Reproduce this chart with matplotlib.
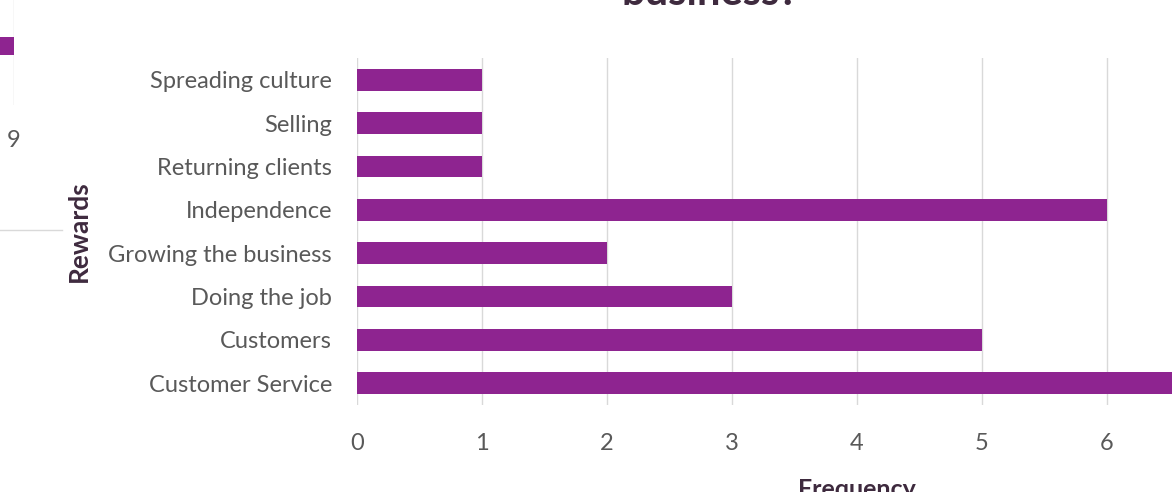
import matplotlib
matplotlib.use("Agg")
import matplotlib.pyplot as plt
from matplotlib.lines import Line2D

# Rewards of running the business, survey answer counts
rewards = [
    "Customer Service",
    "Customers",
    "Doing the job",
    "Growing the business",
    "Independence",
    "Returning clients",
    "Selling",
    "Spreading culture",
]
frequency = [7, 5, 3, 2, 6, 1, 1, 1]
freq_ticks = [0, 1, 2, 3, 4, 5, 6]

# tail end of the neighbouring chart
prev_value = [9]
prev_ticks = [9]

BAR = "#8e2490"
GRID = "#d9d9d9"
TICK = "#595959"
DARK = "#3e2a3e"

plt.rcParams["font.family"] = ["Lato", "DejaVu Sans"]

W, H = 1172, 492
fig = plt.figure(figsize=(W / 100, H / 100), dpi=100)


def box(x0, y0, x1, y1):
    # pixel box (top-left origin) -> figure fraction rect
    return [x0 / W, 1 - y1 / H, (x1 - x0) / W, (y1 - y0) / H]


ax = fig.add_axes(box(357, 58, 357 + 7 * 125, 405))
y = range(len(rewards))
ax.barh(y, frequency, height=0.5, color=BAR, zorder=3)
ax.set_xlim(0, 7)
ax.set_ylim(-0.5, len(rewards) - 0.5)
ax.set_xticks(freq_ticks)
ax.set_yticks(list(y))
ax.set_yticklabels(rewards)
ax.grid(axis="x", color=GRID, linewidth=1, zorder=0)
for s in ax.spines.values():
    s.set_visible(False)
ax.tick_params(axis="both", length=0, colors=TICK, labelsize=17)
ax.tick_params(axis="x", pad=20)
ax.tick_params(axis="y", pad=18)
ax.set_ylabel("Rewards", fontsize=19, fontweight="bold", color=DARK)
ax.yaxis.set_label_coords(-0.316 + 10 / 875, 0.5)

fig.text(857 / W, 1 - 478 / H, "Frequency", ha="center", va="top",
         fontsize=18, fontweight="bold", color=DARK)
fig.text(710 / W, 1 - 5 / H, "business?", ha="center", va="baseline",
         fontsize=30, fontweight="bold", color=DARK)

# neighbouring chart on the left
axp = fig.add_axes(box(-200, 0, 14, 105))
axp.barh([0.56], prev_value, height=0.17, color=BAR, zorder=3)
axp.set_xlim(0, 9)
axp.set_ylim(0, 1)
axp.set_xticks(prev_ticks)
axp.set_yticks([])
axp.grid(axis="x", color=GRID, linewidth=1, zorder=0)
for s in axp.spines.values():
    s.set_visible(False)
axp.tick_params(axis="x", length=0, colors=TICK, labelsize=17, pad=18)
fig.add_artist(Line2D([0, 62 / W], [1 - 230 / H] * 2, color=GRID, linewidth=1))

fig.savefig("out.png", dpi=100)
